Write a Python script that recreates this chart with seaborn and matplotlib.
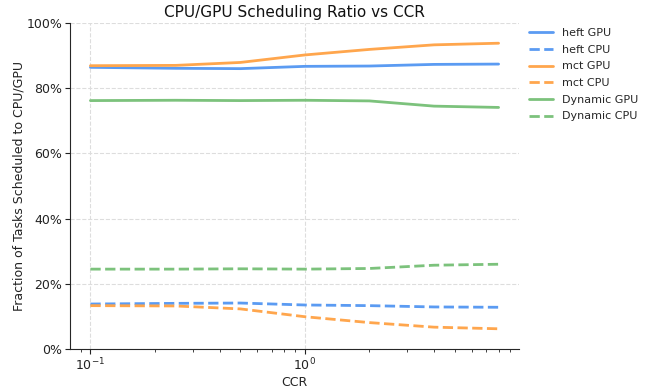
import matplotlib
matplotlib.use("Agg")
import matplotlib.pyplot as plt
from matplotlib.ticker import PercentFormatter
import seaborn as sns
import pandas as pd

sns.set_style("ticks")
plt.rcParams["font.family"] = ["DejaVu Sans"]

ccr = [0.1, 0.25, 0.5, 1, 2, 4, 8]

heft_gpu = [86.4, 86.1, 86.0, 86.7, 86.8, 87.3, 87.4]
heft_cpu = [13.8, 14.0, 14.1, 13.5, 13.3, 12.9, 12.8]
mct_gpu = [86.9, 87.0, 87.9, 90.2, 91.9, 93.3, 93.8]
mct_cpu = [13.3, 13.2, 12.3, 9.9, 8.1, 6.7, 6.2]
dyn_gpu = [76.2, 76.3, 76.2, 76.3, 76.1, 74.5, 74.1]
dyn_cpu = [24.5, 24.5, 24.6, 24.5, 24.7, 25.7, 26.0]

series = [
    ("heft GPU", heft_gpu, "#5b9bf2", "-"),
    ("heft CPU", heft_cpu, "#5b9bf2", "--"),
    ("mct GPU", mct_gpu, "#ffa64d", "-"),
    ("mct CPU", mct_cpu, "#ffa64d", "--"),
    ("Dynamic GPU", dyn_gpu, "#7cc27c", "-"),
    ("Dynamic CPU", dyn_cpu, "#7cc27c", "--"),
]

fig = plt.figure(figsize=(6.53, 3.92), dpi=100)
ax = fig.add_axes([70 / 653, 1 - 349 / 392, 449 / 653, 326 / 392])

for name, vals, color, ls in series:
    df = pd.DataFrame({"CCR": ccr, "frac": vals})
    sns.lineplot(data=df, x="CCR", y="frac", ax=ax, color=color,
                 linestyle=ls, linewidth=2, label=name)

ax.set_xscale("log")
ax.set_ylim(0, 100)
ax.yaxis.set_major_formatter(PercentFormatter(100, decimals=0))
ax.set_yticks([0, 20, 40, 60, 80, 100])
ax.tick_params(which="major", labelsize=9, length=3.5, pad=2, colors="#222222")
ax.tick_params(which="minor", length=2, colors="#222222")
ax.grid(True, which="major", linestyle="--", color="#dddddd", linewidth=0.8)
ax.set_axisbelow(True)
sns.despine(ax=ax)

ax.set_xlabel("CCR", fontsize=9, labelpad=2, color="#222222")
ax.set_ylabel("Fraction of Tasks Scheduled to CPU/GPU", fontsize=9,
              labelpad=1, color="#222222")
ax.set_title("CPU/GPU Scheduling Ratio vs CCR", fontsize=11, pad=4,
             color="#111111")

ax.legend(loc="upper left", bbox_to_anchor=(1.0, 1.015), frameon=False,
          fontsize=8, handlelength=2.2, labelspacing=0.6)

fig.savefig("out.png", dpi=100)
